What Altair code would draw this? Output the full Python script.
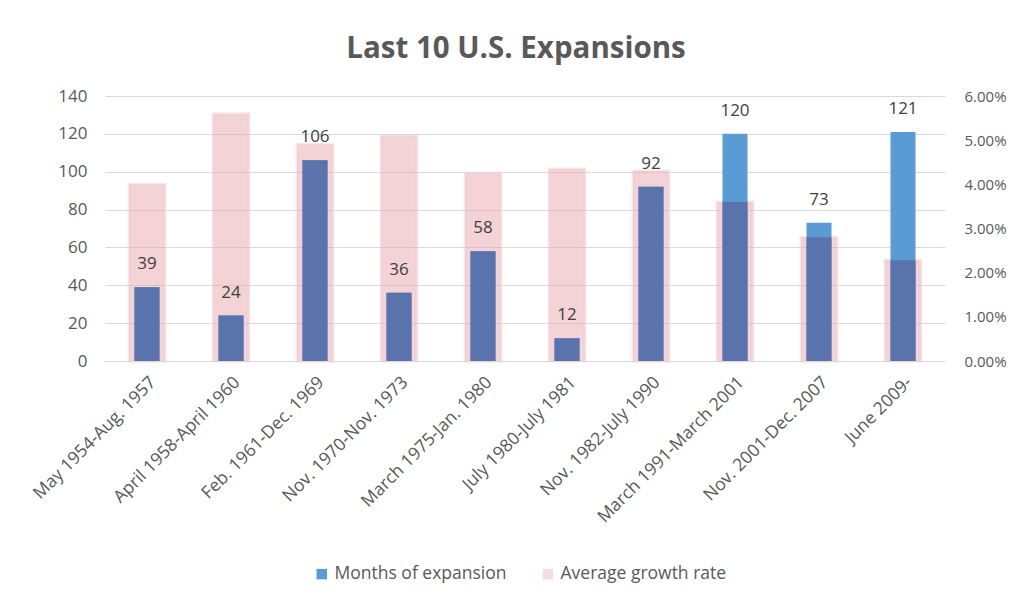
import altair as alt
import pandas as pd

periods = ["May 1954-Aug. 1957", "April 1958-April 1960", "Feb. 1961-Dec. 1969",
           "Nov. 1970-Nov. 1973", "March 1975-Jan. 1980", "July 1980-July 1981",
           "Nov. 1982-July 1990", "March 1991-March 2001", "Nov. 2001-Dec. 2007",
           "June 2009-"]
months = [39, 24, 106, 36, 58, 12, 92, 120, 73, 121]
growth = [0.040, 0.056, 0.049, 0.051, 0.0425, 0.0435, 0.043, 0.036, 0.028, 0.0228]
series_names = ["Months of expansion", "Average growth rate"]

left_ticks = [0, 20, 40, 60, 80, 100, 120, 140]
right_ticks = [0.0, 0.01, 0.02, 0.03, 0.04, 0.05, 0.06]

df = pd.DataFrame({"period": periods, "months": months, "growth": growth,
                   "s_months": series_names[0], "s_growth": series_names[1]})

FONT = "Open Sans"
GREY = "#595959"

x_enc = alt.X("period:N", sort=periods, title=None,
              scale=alt.Scale(paddingInner=0.2, paddingOuter=0.1),
              axis=alt.Axis(labelAngle=-45, labelFontSize=17.5, labelColor=GREY,
                            labelFont=FONT, ticks=False, domain=False,
                            labelPadding=12, labelLimit=400))

left_axis = alt.Axis(values=left_ticks, grid=True, gridColor="#D9D9D9",
                     ticks=False, domain=False, labelPadding=18,
                     labelFontSize=17, labelColor=GREY, labelFont=FONT,
                     orient="left")
left_scale = alt.Scale(domain=[0, 140], nice=False)


def yl(field):
    return alt.Y(field, scale=left_scale, axis=left_axis, title=None)


color_scale = alt.Scale(domain=series_names, range=["#5B9BD5", "#F6DCDF"])
legend = alt.Legend(
    title=None, orient="none", legendX=208, legendY=469, direction="horizontal",
    symbolType="square", symbolSize=110, labelFontSize=17.5, labelColor=GREY,
    labelFont=FONT, columnPadding=32, labelOffset=4, symbolStrokeWidth=0,
    labelLimit=400)

base = alt.Chart(df)

pink = base.mark_bar(size=36, fill="#E8A7AE", fillOpacity=0.5,
                     stroke="#F2CDD1", strokeWidth=3, strokeOpacity=0.5).encode(
    x=x_enc,
    y=alt.Y("growth:Q", scale=alt.Scale(domain=[0, 0.06], nice=False), title=None,
            axis=alt.Axis(values=right_ticks, format=".2%", grid=False, ticks=False,
                          domain=False, labelPadding=19, labelFontSize=15,
                          labelColor=GREY, labelFont=FONT, orient="right")),
    color=alt.Color("s_growth:N", scale=color_scale, legend=legend),
)

blue = base.mark_bar(size=25).encode(
    x=x_enc,
    y=yl("months:Q"),
    color=alt.Color("s_months:N", scale=color_scale, legend=legend),
)

overlap = base.transform_calculate(
    ov="min(datum.months, datum.growth / 0.06 * 140)"
).mark_bar(size=25, color="#5A73AD").encode(
    x=x_enc,
    y=yl("ov:Q"),
)

labels = base.mark_text(dy=-23, baseline="middle", fontSize=17, font=FONT,
                        color="#404040").encode(
    x=x_enc,
    y=yl("months:Q"),
    text=alt.Text("months:Q"),
)

left_layer = alt.layer(blue, overlap, labels)

chart = alt.layer(pink, left_layer).resolve_scale(y="independent").properties(
    width=840, height=265,
    title=alt.TitleParams("Last 10 U.S. Expansions", fontSize=29.5, font=FONT,
                          fontWeight="bold", color=GREY, offset=23, dx=-9),
    autosize=alt.AutoSizeParams(type="none"),
    padding={"left": 97, "top": 88, "right": 63, "bottom": 226},
).configure_view(strokeWidth=0)

chart.save("out.html", embed_options={"renderer": "svg", "actions": False})
